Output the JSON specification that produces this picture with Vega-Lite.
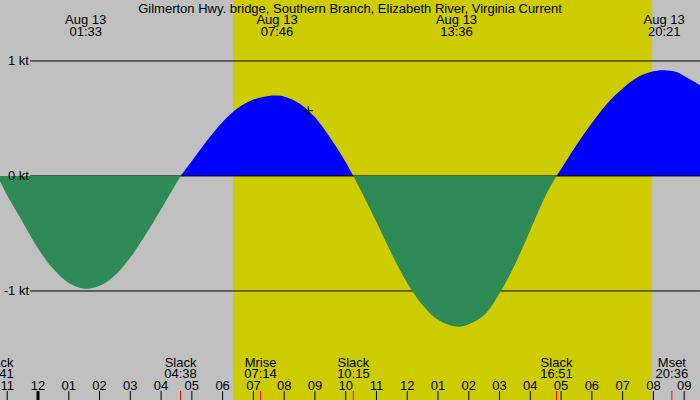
{
  "$schema": "https://vega.github.io/schema/vega-lite/v6.json",
  "width": 700,
  "height": 400,
  "padding": 0,
  "autosize": {"type": "none"},
  "background": "#c0c0c0",
  "config": {
    "view": {"stroke": null},
    "font": "Liberation Sans",
    "text": {"font": "Liberation Sans", "fontSize": 13, "color": "black"}
  },
  "datasets": {
    "day": [{"rise": 6.337, "set": 19.954}],
    "flood": [
      {"seg": "f1", "h": 4.633, "v": 0},
      {"seg": "f1", "h": 5.0, "v": 0.13},
      {"seg": "f1", "h": 5.5, "v": 0.31},
      {"seg": "f1", "h": 6.0, "v": 0.47},
      {"seg": "f1", "h": 6.5, "v": 0.59},
      {"seg": "f1", "h": 7.0, "v": 0.665},
      {"seg": "f1", "h": 7.5, "v": 0.696},
      {"seg": "f1", "h": 7.767, "v": 0.7},
      {"seg": "f1", "h": 8.0, "v": 0.692},
      {"seg": "f1", "h": 8.5, "v": 0.63},
      {"seg": "f1", "h": 9.0, "v": 0.51},
      {"seg": "f1", "h": 9.5, "v": 0.33},
      {"seg": "f1", "h": 10.0, "v": 0.12},
      {"seg": "f1", "h": 10.25, "v": 0},
      {"seg": "f2", "h": 16.85, "v": 0},
      {"seg": "f2", "h": 17.0, "v": 0.06},
      {"seg": "f2", "h": 17.5, "v": 0.27},
      {"seg": "f2", "h": 18.0, "v": 0.46},
      {"seg": "f2", "h": 18.5, "v": 0.63},
      {"seg": "f2", "h": 19.0, "v": 0.76},
      {"seg": "f2", "h": 19.5, "v": 0.86},
      {"seg": "f2", "h": 20.0, "v": 0.91},
      {"seg": "f2", "h": 20.35, "v": 0.92},
      {"seg": "f2", "h": 20.75, "v": 0.905},
      {"seg": "f2", "h": 21.0, "v": 0.87},
      {"seg": "f2", "h": 21.5, "v": 0.79},
      {"seg": "f2", "h": 22.0, "v": 0.68}
    ],
    "ebb": [
      {"seg": "e1", "h": -1.317, "v": 0},
      {"seg": "e1", "h": -1.0, "v": -0.17},
      {"seg": "e1", "h": -0.5, "v": -0.4},
      {"seg": "e1", "h": 0.0, "v": -0.63},
      {"seg": "e1", "h": 0.5, "v": -0.81},
      {"seg": "e1", "h": 1.0, "v": -0.93},
      {"seg": "e1", "h": 1.55, "v": -0.98},
      {"seg": "e1", "h": 2.0, "v": -0.955},
      {"seg": "e1", "h": 2.5, "v": -0.865},
      {"seg": "e1", "h": 3.0, "v": -0.71},
      {"seg": "e1", "h": 3.5, "v": -0.51},
      {"seg": "e1", "h": 4.0, "v": -0.29},
      {"seg": "e1", "h": 4.633, "v": 0},
      {"seg": "e2", "h": 10.25, "v": 0},
      {"seg": "e2", "h": 10.5, "v": -0.13},
      {"seg": "e2", "h": 11.0, "v": -0.4},
      {"seg": "e2", "h": 11.5, "v": -0.68},
      {"seg": "e2", "h": 12.0, "v": -0.93},
      {"seg": "e2", "h": 12.5, "v": -1.125},
      {"seg": "e2", "h": 13.0, "v": -1.25},
      {"seg": "e2", "h": 13.6, "v": -1.31},
      {"seg": "e2", "h": 14.0, "v": -1.29},
      {"seg": "e2", "h": 14.5, "v": -1.21},
      {"seg": "e2", "h": 15.0, "v": -1.02},
      {"seg": "e2", "h": 15.5, "v": -0.77},
      {"seg": "e2", "h": 16.0, "v": -0.47},
      {"seg": "e2", "h": 16.5, "v": -0.17},
      {"seg": "e2", "h": 16.85, "v": 0}
    ],
    "kt": [
      {"v": 1, "lab": "1 kt"},
      {"v": 0, "lab": "0 kt"},
      {"v": -1, "lab": "-1 kt"}
    ],
    "now": [{"h": 8.785, "v": 0.5675}],
    "title": [{"text": "Gilmerton Hwy. bridge, Southern Branch, Elizabeth River, Virginia Current"}],
    "peaks": [
      {"h": 1.55, "lab": ["Aug 13", "01:33"]},
      {"h": 7.767, "lab": ["Aug 13", "07:46"]},
      {"h": 13.6, "lab": ["Aug 13", "13:36"]},
      {"h": 20.35, "lab": ["Aug 13", "20:21"]}
    ],
    "events": [
      {"h": -1.317, "lab": ["Slack", "22:41"]},
      {"h": 4.633, "lab": ["Slack", "04:38"]},
      {"h": 7.233, "lab": ["Mrise", "07:14"]},
      {"h": 10.25, "lab": ["Slack", "10:15"]},
      {"h": 16.85, "lab": ["Slack", "16:51"]},
      {"h": 20.6, "lab": ["Mset", "20:36"]}
    ],
    "hours": [
      {"h": -1, "lab": "11"}, {"h": 0, "lab": "12"}, {"h": 1, "lab": "01"},
      {"h": 2, "lab": "02"}, {"h": 3, "lab": "03"}, {"h": 4, "lab": "04"},
      {"h": 5, "lab": "05"}, {"h": 6, "lab": "06"}, {"h": 7, "lab": "07"},
      {"h": 8, "lab": "08"}, {"h": 9, "lab": "09"}, {"h": 10, "lab": "10"},
      {"h": 11, "lab": "11"}, {"h": 12, "lab": "12"}, {"h": 13, "lab": "01"},
      {"h": 14, "lab": "02"}, {"h": 15, "lab": "03"}, {"h": 16, "lab": "04"},
      {"h": 17, "lab": "05"}, {"h": 18, "lab": "06"}, {"h": 19, "lab": "07"},
      {"h": 20, "lab": "08"}, {"h": 21, "lab": "09"}
    ],
    "midnight": [{"h": 0}]
  },
  "layer": [
    {
      "data": {"name": "day"},
      "mark": {"type": "rect", "color": "#cccc00"},
      "encoding": {
        "x": {"field": "rise", "type": "quantitative", "scale": {"domain": [-1.235, 21.514], "nice": false, "zero": false}, "axis": null},
        "x2": {"field": "set"},
        "y": {"datum": 1.53, "type": "quantitative", "scale": {"domain": [-1.948, 1.53], "nice": false, "zero": false}, "axis": null},
        "y2": {"datum": -1.948}
      }
    },
    {
      "data": {"name": "flood"},
      "mark": {"type": "area", "color": "#0000ff", "clip": true, "interpolate": "catmull-rom"},
      "encoding": {
        "x": {"field": "h", "type": "quantitative", "scale": {"domain": [-1.235, 21.514], "nice": false, "zero": false}, "axis": null},
        "y": {"field": "v", "type": "quantitative", "scale": {"domain": [-1.948, 1.53], "nice": false, "zero": false}, "axis": null},
        "y2": {"datum": 0},
        "detail": {"field": "seg"}
      }
    },
    {
      "data": {"name": "kt"},
      "mark": {"type": "rule", "color": "black", "strokeWidth": 1},
      "encoding": {
        "x": {"datum": -0.26, "type": "quantitative", "scale": {"domain": [-1.235, 21.514], "nice": false, "zero": false}, "axis": null},
        "x2": {"datum": 21.514},
        "y": {"field": "v", "type": "quantitative", "scale": {"domain": [-1.948, 1.53], "nice": false, "zero": false}, "axis": null}
      }
    },
    {
      "data": {"name": "ebb"},
      "mark": {"type": "area", "color": "#2e8b57", "clip": true, "interpolate": "catmull-rom"},
      "encoding": {
        "x": {"field": "h", "type": "quantitative", "scale": {"domain": [-1.235, 21.514], "nice": false, "zero": false}, "axis": null},
        "y": {"field": "v", "type": "quantitative", "scale": {"domain": [-1.948, 1.53], "nice": false, "zero": false}, "axis": null},
        "y2": {"datum": 0},
        "detail": {"field": "seg"}
      }
    },
    {
      "data": {"name": "kt"},
      "mark": {"type": "text", "align": "right", "baseline": "middle"},
      "encoding": {
        "x": {"datum": -0.2925, "type": "quantitative", "scale": {"domain": [-1.235, 21.514], "nice": false, "zero": false}, "axis": null},
        "y": {"field": "v", "type": "quantitative", "scale": {"domain": [-1.948, 1.53], "nice": false, "zero": false}, "axis": null},
        "text": {"field": "lab"}
      }
    },
    {
      "data": {"name": "now"},
      "mark": {"type": "point", "shape": "M-1,0H1M0,-1V1", "size": 81, "filled": false, "stroke": "black", "strokeWidth": 1, "opacity": 1},
      "encoding": {
        "x": {"field": "h", "type": "quantitative", "scale": {"domain": [-1.235, 21.514], "nice": false, "zero": false}, "axis": null},
        "y": {"field": "v", "type": "quantitative", "scale": {"domain": [-1.948, 1.53], "nice": false, "zero": false}, "axis": null}
      }
    },
    {
      "data": {"name": "title"},
      "mark": {"type": "text", "align": "center", "baseline": "alphabetic"},
      "encoding": {
        "x": {"datum": 10.14, "type": "quantitative", "scale": {"domain": [-1.235, 21.514], "nice": false, "zero": false}, "axis": null},
        "y": {"datum": 1.4213, "type": "quantitative", "scale": {"domain": [-1.948, 1.53], "nice": false, "zero": false}, "axis": null},
        "text": {"field": "text"}
      }
    },
    {
      "data": {"name": "peaks"},
      "mark": {"type": "text", "align": "center", "baseline": "alphabetic", "lineHeight": 12},
      "encoding": {
        "x": {"field": "h", "type": "quantitative", "scale": {"domain": [-1.235, 21.514], "nice": false, "zero": false}, "axis": null},
        "y": {"datum": 1.3213, "type": "quantitative", "scale": {"domain": [-1.948, 1.53], "nice": false, "zero": false}, "axis": null},
        "text": {"field": "lab"}
      }
    },
    {
      "data": {"name": "events"},
      "mark": {"type": "text", "align": "center", "baseline": "alphabetic", "lineHeight": 11, "clip": true},
      "encoding": {
        "x": {"field": "h", "type": "quantitative", "scale": {"domain": [-1.235, 21.514], "nice": false, "zero": false}, "axis": null},
        "y": {"datum": -1.661, "type": "quantitative", "scale": {"domain": [-1.948, 1.53], "nice": false, "zero": false}, "axis": null},
        "text": {"field": "lab"}
      }
    },
    {
      "data": {"name": "hours"},
      "mark": {"type": "text", "align": "center", "baseline": "alphabetic", "clip": true},
      "encoding": {
        "x": {"field": "h", "type": "quantitative", "scale": {"domain": [-1.235, 21.514], "nice": false, "zero": false}, "axis": null},
        "y": {"datum": -1.861, "type": "quantitative", "scale": {"domain": [-1.948, 1.53], "nice": false, "zero": false}, "axis": null},
        "text": {"field": "lab"}
      }
    },
    {
      "data": {"name": "hours"},
      "mark": {"type": "rule", "color": "black", "strokeWidth": 1},
      "encoding": {
        "x": {"field": "h", "type": "quantitative", "scale": {"domain": [-1.235, 21.514], "nice": false, "zero": false}, "axis": null},
        "y": {"datum": -1.8697, "type": "quantitative", "scale": {"domain": [-1.948, 1.53], "nice": false, "zero": false}, "axis": null},
        "y2": {"datum": -1.948}
      }
    },
    {
      "data": {"name": "events"},
      "mark": {"type": "rule", "color": "#ff0000", "strokeWidth": 1, "clip": true},
      "encoding": {
        "x": {"field": "h", "type": "quantitative", "scale": {"domain": [-1.235, 21.514], "nice": false, "zero": false}, "axis": null},
        "y": {"datum": -1.8697, "type": "quantitative", "scale": {"domain": [-1.948, 1.53], "nice": false, "zero": false}, "axis": null},
        "y2": {"datum": -1.948}
      }
    },
    {
      "data": {"name": "midnight"},
      "mark": {"type": "rule", "color": "black", "strokeWidth": 3},
      "encoding": {
        "x": {"field": "h", "type": "quantitative", "scale": {"domain": [-1.235, 21.514], "nice": false, "zero": false}, "axis": null},
        "y": {"datum": -1.8697, "type": "quantitative", "scale": {"domain": [-1.948, 1.53], "nice": false, "zero": false}, "axis": null},
        "y2": {"datum": -1.948}
      }
    }
  ]
}
